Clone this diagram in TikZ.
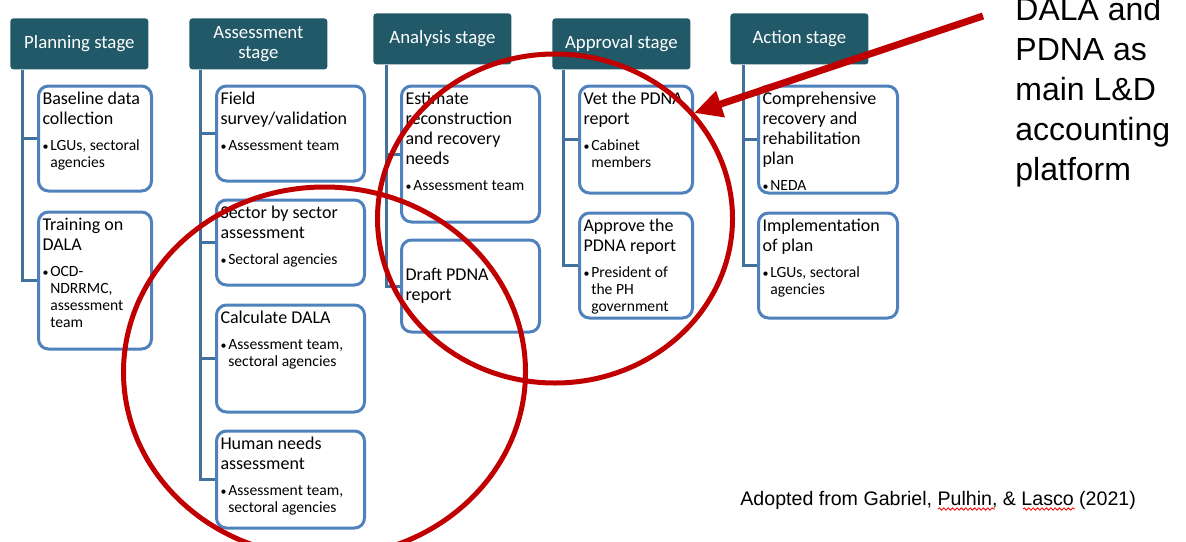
\documentclass[tikz,border=0pt]{standalone}
\usepackage{fontspec}
\setmainfont{Carlito}
\newfontfamily\arialfont{Liberation Sans}
\usetikzlibrary{arrows.meta,decorations.pathmorphing}
\definecolor{headteal}{HTML}{215968}
\definecolor{boxblue}{HTML}{4F81BD}
\definecolor{linkblue}{HTML}{41719C}
\definecolor{markred}{HTML}{C00000}
% bullet line under a step title
\newcommand{\who}[1]{\par\vspace{4.5pt}{\fontsize{7.8pt}{8.5pt}\selectfont\leftskip=3.9pt
  \hskip-3.9pt\makebox[3.9pt][l]{\fontsize{6pt}{6pt}\selectfont\textbullet}#1\par}}
\begin{document}
\begin{tikzpicture}[x=0.5pt, y=-0.5pt,
    head/.style={fill=headteal, text=white, rounded corners=1.5pt, minimum width=69pt, minimum height=25.5pt,
                 anchor=north west, align=center, inner sep=2pt, font=\fontsize{9.4pt}{10pt}\selectfont},
    box/.style={draw=boxblue, line width=1.5pt, rounded corners=5pt, fill=white, inner ysep=3pt, inner xsep=2pt,
                anchor=north west, font=\fontsize{9pt}{10pt}\selectfont},
    bracket/.style={draw=linkblue, line width=1.5pt},
    ring/.style={draw=markred, line width=2.5pt},
    pointer/.style={draw=markred, line width=3.5pt, -{Triangle[length=14pt,width=13pt]}},
    squiggle/.style={draw=red, line width=0.4pt, decorate, decoration={snake, amplitude=0.6pt, segment length=2.2pt}}
  ]
  \useasboundingbox (0,0) rectangle (1186,541);

  % stage headers
  \node[head] (plan) at (10,18) {Planning stage};
  \node[head] (assess) at (189,18) {Assessment\\stage};
  \node[head] (analysis) at (373,13) {Analysis stage};
  \node[head] (approval) at (552,18) {Approval stage};
  \node[head] (action) at (730,13) {Action stage};

  % planning stage
  \node[box] (base) at (37,84.5) {\parbox[t][46.5pt][t]{52.5pt}{\raggedright Baseline data\\collection\who{LGUs, sectoral\\agencies}}};
  \node[box] (train) at (37,210.5) {\parbox[t][62.5pt][t]{52.5pt}{\raggedright Training on\\DALA\who{OCD-\\NDRRMC,\\assessment\\team}}};

  % assessment stage
  \node[box] (field) at (215,84.5) {\parbox[t][41.5pt][t]{70pt}{\raggedright Field\\survey/validation\who{Assessment team}}};
  \node[box] (sector) at (215,198.5) {\parbox[t][36.5pt][t]{70pt}{\raggedright Sector by sector\\assessment\who{Sectoral agencies}}};
  \node[box] (calc) at (215,303.5) {\parbox[t][47.5pt][t]{70pt}{\raggedright Calculate DALA\who{Assessment team,\\sectoral agencies}}};
  \node[box] (human) at (215,429.5) {\parbox[t][42.5pt][t]{70pt}{\raggedright Human needs\\assessment\who{Assessment team,\\sectoral agencies}}};

  % analysis stage
  \node[box] (estimate) at (400,84.5) {\parbox[t][62pt][t]{65pt}{\raggedright Estimate\\reconstruction\\and recovery\\needs\who{Assessment team}}};
  \node[box] (draft) at (400,238.5) {\parbox[t][40pt][c]{65pt}{\raggedright Draft PDNA\\report}};

  % approval stage
  \node[box] (vet) at (578,84.5) {\parbox[t][47.5pt][t]{52.5pt}{\raggedright Vet the PDNA\\report\who{Cabinet\\members}}};
  \node[box] (approve) at (578,211.5) {\parbox[t][46.5pt][t]{52.5pt}{\raggedright Approve the\\PDNA report\who{President of\\the PH\\government}}};

  % action stage
  \node[box] (compre) at (757,84.5) {\parbox[t][47.5pt][t]{65.5pt}{\raggedright Comprehensive\\recovery and\\rehabilitation\\plan\who{NEDA}}};
  \node[box] (impl) at (757,211.5) {\parbox[t][46.5pt][t]{65.5pt}{\raggedright Implementation\\of plan\who{LGUs, sectoral\\agencies}}};

  % brackets from each header
  \coordinate (plantop) at ([xshift=6pt]plan.south west);
  \coordinate (assesstop) at ([xshift=5.5pt]assess.south west);
  \coordinate (analysistop) at ([xshift=6.5pt]analysis.south west);
  \coordinate (approvaltop) at ([xshift=5.5pt]approval.south west);
  \coordinate (actiontop) at ([xshift=6.5pt]action.south west);
  \draw[bracket] (plantop) |- (base.west);
  \draw[bracket] (plantop) |- (train.west);
  \draw[bracket] (assesstop) |- (field.west);
  \draw[bracket] (assesstop) |- (sector.west);
  \draw[bracket] (assesstop) |- (calc.west);
  \draw[bracket] (assesstop) |- (human.west);
  \draw[bracket] (analysistop) |- (estimate.west);
  \draw[bracket] (analysistop) |- (draft.west);
  \draw[bracket] (approvaltop) |- (vet.west);
  \draw[bracket] (approvaltop) |- (approve.west);
  \draw[bracket] (actiontop) |- (compre.west);
  \draw[bracket] (actiontop) |- (impl.west);

  % red marks
  \draw[ring] (324.5,372) ellipse [x radius=100.5pt, y radius=92.5pt];
  \draw[ring] (555,218.5) ellipse [x radius=88.75pt, y radius=82.25pt];
  \coordinate (arrowtail) at (983,16);
  \coordinate (arrowtip) at (694,113);
  \draw[pointer] (arrowtail) -- (arrowtip);

  \node[anchor=north west, inner sep=0, align=left, font=\arialfont\fontsize{16pt}{20pt}\selectfont] (note)
    at (1015,-3.4) {DALA and\\PDNA as\\main L\&D\\accounting\\platform};

  \node[anchor=base west, inner sep=0, font=\arialfont\fontsize{9.8pt}{11pt}\selectfont] (source)
    at (740,505) {Adopted from Gabriel, Pulhin, \& Lasco (2021)};
  \draw[squiggle] (938,509) -- (995,509);
  \draw[squiggle] (1023,509) -- (1075,509);
\end{tikzpicture}
\end{document}
